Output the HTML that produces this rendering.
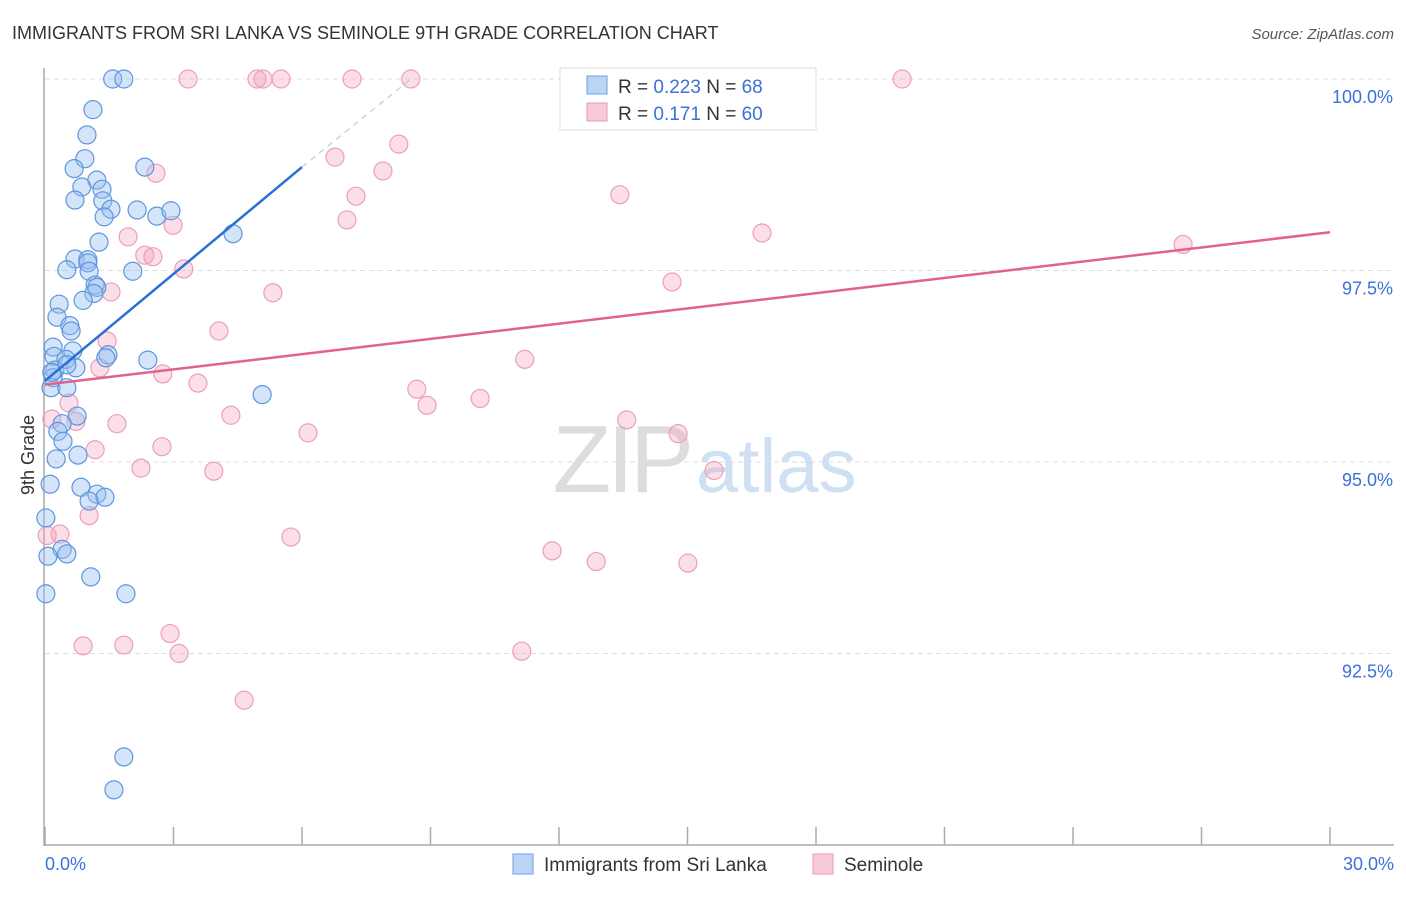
<!DOCTYPE html>
<html><head><meta charset="utf-8">
<style>
body{margin:0;background:#fff;font-family:"Liberation Sans",sans-serif;}
svg text{font-family:"Liberation Sans",sans-serif;}
</style></head>
<body>
<svg width="1406" height="892" viewBox="0 0 1406 892" xmlns="http://www.w3.org/2000/svg">
<text x="12" y="39" font-size="18" fill="#333">IMMIGRANTS FROM SRI LANKA VS SEMINOLE 9TH GRADE CORRELATION CHART</text>
<text x="1394" y="39" font-size="15" fill="#555" font-style="italic" text-anchor="end">Source: ZipAtlas.com</text>
<g>
<text x="690" y="492" font-size="96" fill="#ddd" font-family="Liberation Serif" text-anchor="end" letter-spacing="-4">ZIP</text>
<text x="696" y="492" font-size="76" fill="#cfe0f3">atlas</text>
</g>
<g id="grid"></g>
<g id="axes"></g>
<g id="pts"></g>
<g id="trends"></g>
<text x="34" y="455" font-size="18" fill="#333" text-anchor="middle" transform="rotate(-90 34 455)">9th Grade</text>
<g>
<rect x="560" y="68" width="256" height="62" fill="#fff" stroke="#ddd"/>
<rect x="587" y="76" width="20" height="18" fill="#bcd4f3" stroke="#6d9ee0"/>
<rect x="587" y="103" width="20" height="18" fill="#f8c9d6" stroke="#e99ab2"/>
<text x="618" y="93" font-size="19" fill="#333">R = <tspan fill="#3a72d8">0.223</tspan>   N = <tspan fill="#3a72d8">68</tspan></text>
<text x="618" y="120" font-size="19" fill="#333">R =  <tspan fill="#3a72d8">0.171</tspan>   N = <tspan fill="#3a72d8">60</tspan></text>
</g>
<g>
<rect x="513" y="854" width="20" height="20" fill="#bcd4f3" stroke="#6d9ee0"/>
<text x="544" y="871" font-size="19" fill="#333">Immigrants from Sri Lanka</text>
<rect x="813" y="854" width="20" height="20" fill="#f8c9d6" stroke="#e99ab2"/>
<text x="844" y="871" font-size="19" fill="#333">Seminole</text>
</g>
</svg>
<script>
const xTicks=[0,3,6,9,12,15,18,21,24,27,30];
const yTicks=[100,97.5,95,92.5];
const yTickLabels=["100.0%","97.5%","95.0%","92.5%"];
const blueX=[1.58,1.84,1.12,0.98,0.93,0.68,2.33,1.21,0.86,1.33,0.70,1.35,1.54,2.15,1.38,2.61,2.94,4.39,1.26,0.70,1.00,1.00,0.51,1.03,2.05,1.17,1.21,1.14,0.89,0.33,0.28,0.58,0.61,0.19,0.65,0.21,0.49,1.47,1.42,2.40,0.72,0.23,0.51,0.19,0.14,0.51,5.07,0.75,0.40,0.30,0.42,0.77,0.26,0.12,0.84,1.21,1.40,1.03,0.02,0.40,0.51,0.07,1.07,1.89,0.02,1.84,1.61,0.16];
const blueY=[100,100,99.60,99.27,98.96,98.83,98.85,98.68,98.59,98.56,98.42,98.41,98.30,98.29,98.20,98.21,98.28,97.98,97.87,97.65,97.64,97.60,97.51,97.49,97.49,97.31,97.28,97.20,97.11,97.06,96.89,96.78,96.71,96.50,96.45,96.38,96.34,96.40,96.36,96.33,96.23,96.20,96.27,96.10,95.97,95.97,95.88,95.60,95.50,95.40,95.27,95.09,95.04,94.71,94.67,94.58,94.54,94.49,94.27,93.86,93.80,93.77,93.50,93.28,93.28,91.15,90.72,96.17];
const pinkX=[3.34,4.95,5.09,5.51,7.17,8.54,20.01,8.26,6.77,7.89,2.59,7.26,13.42,7.05,2.99,1.94,16.74,2.33,2.52,3.24,14.64,1.54,5.32,4.06,1.45,11.20,1.28,2.75,3.57,8.68,0.16,0.56,8.92,10.16,0.72,1.68,6.14,4.34,13.58,14.78,2.73,1.17,2.24,3.94,15.62,1.03,0.35,5.74,11.84,12.87,15.01,0.89,1.84,2.92,3.13,11.13,4.65,26.57,0.05];
const pinkY=[100,100,100,100,100,100,100,99.15,98.98,98.80,98.77,98.47,98.49,98.16,98.09,97.94,97.99,97.70,97.68,97.52,97.35,97.22,97.21,96.71,96.58,96.34,96.23,96.15,96.03,95.95,95.56,95.77,95.74,95.83,95.53,95.50,95.38,95.61,95.55,95.37,95.20,95.16,94.92,94.88,94.89,94.30,94.06,94.02,93.84,93.70,93.68,92.60,92.61,92.76,92.50,92.53,91.89,97.84,94.04];
const blueTrend=[[0,96.06],[6,98.85]];
const blueTrendExt=[[6,98.85],[8.54,100]];
const pinkTrend=[[0,96.01],[30,98.0]];
const NS="http://www.w3.org/2000/svg";
const X=v=>45+v/30*1285;
const Y=v=>79+(100-v)*76.6;
function mk(tag,attrs,parent){const e=document.createElementNS(NS,tag);for(const k in attrs)e.setAttribute(k,attrs[k]);parent.appendChild(e);return e;}
const grid=document.getElementById('grid'),axes=document.getElementById('axes'),pts=document.getElementById('pts'),tr=document.getElementById('trends');
yTicks.forEach((t,i)=>{
 const l=mk('line',{x1:45,x2:1394,y1:Y(t),y2:Y(t),stroke:'#ddd','stroke-dasharray':'5,4'},grid);
 
 
 const tx=mk('text',{x:1393,y:Y(t)+24,'font-size':18,fill:'#3a72d8','text-anchor':'end'},axes);
 tx.textContent=yTickLabels[i];
 
 
});
const ya=mk('line',{x1:44,x2:44,y1:68,y2:846,stroke:'#aaa','stroke-width':1.5},axes);


const xa=mk('line',{x1:44,x2:1394,y1:845,y2:845,stroke:'#aaa','stroke-width':1.5},axes);


xTicks.forEach(t=>{
 const l=mk('line',{x1:X(t),x2:X(t),y1:827,y2:845,stroke:'#aaa','stroke-width':1.5},axes);
 
 
});
[[0,'0.0%','start',45],[30,'30.0%','end',1394]].forEach(a=>{
 const tx=mk('text',{x:a[3],y:870,'font-size':18,fill:'#3a72d8','text-anchor':a[2]},axes);
 tx.textContent=a[1];
 
 
});
pinkX.forEach((v,i)=>{
 const c=mk('circle',{cx:X(v),cy:Y(pinkY[i]),r:9,fill:'rgba(244,160,185,0.35)',stroke:'#eaa0b8','stroke-width':1.2},pts);
 
 
});
blueX.forEach((v,i)=>{
 const c=mk('circle',{cx:X(v),cy:Y(blueY[i]),r:9,fill:'rgba(150,190,240,0.4)',stroke:'#5f95de','stroke-width':1.2},pts);
 
 
});
const bt=mk('line',{x1:X(blueTrend[0][0]),y1:Y(blueTrend[0][1]),x2:X(blueTrend[1][0]),y2:Y(blueTrend[1][1]),stroke:'#2a6fd6','stroke-width':2.5},tr);


const be=mk('line',{x1:X(blueTrendExt[0][0]),y1:Y(blueTrendExt[0][1]),x2:X(blueTrendExt[1][0]),y2:Y(blueTrendExt[1][1]),stroke:'#b8cbe8','stroke-width':1.2,'stroke-dasharray':'6,5'},tr);


const pt=mk('line',{x1:X(pinkTrend[0][0]),y1:Y(pinkTrend[0][1]),x2:X(pinkTrend[1][0]),y2:Y(pinkTrend[1][1]),stroke:'#e2628c','stroke-width':2.5},tr);


</script>
</body></html>
